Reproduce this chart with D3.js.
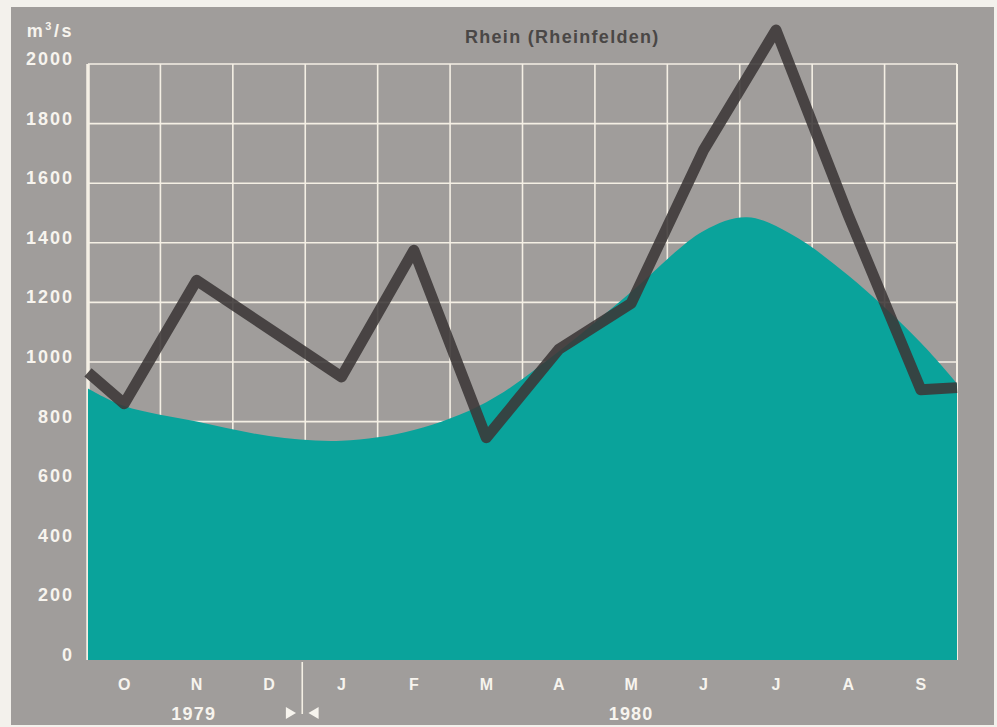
<!DOCTYPE html>
<html>
<head>
<meta charset="utf-8">
<script src="https://cdn.jsdelivr.net/npm/d3@7"></script>
<style>
  body { margin: 0; background: #f3f1ec; }
  svg { display: block; font-family: "Liberation Sans", Arial, sans-serif; }
</style>
</head>
<body>
<svg id="chart"></svg>
<script>
// month labels, Oct 1979 .. Sep 1980
const months = ["O", "N", "D", "J", "F", "M", "A", "M", "J", "J", "A", "S"];
const yTicks = [0, 200, 400, 600, 800, 1000, 1200, 1400, 1600, 1800, 2000];

// monthly mean discharge 1979/80 (x = month index, 0.5 = mid October)
const flowX = [0, 0.5, 1.5, 2.5, 3.5, 4.5, 5.5, 6.5, 7.5, 8.5, 9.5, 10.5, 11.5, 12];
const flowY = [965, 860, 1274, 1112, 950, 1375, 746, 1042, 1197, 1711, 2114, 1492, 907, 914];

// long-term mean discharge (smooth teal area)
const meanX = [0, 0.5, 1.5, 2.5, 3.5, 4.5, 5.5, 6.5, 7.5, 8.5, 9.1, 9.7, 10.5, 11.5, 12];
const meanY = [911, 852, 800, 752, 736, 772, 865, 1035, 1235, 1440, 1486, 1430, 1290, 1065, 928];

const years = [{ label: "1979", x: 1.46 }, { label: "1980", x: 7.5 }];

const W = 997, H = 727;
const margin = { top: 64, right: 40, bottom: 67, left: 88 };
const width = W - margin.left - margin.right;
const height = H - margin.top - margin.bottom;

const root = d3.select("#chart").attr("width", W).attr("height", H);

// grey card
root.append("rect")
    .attr("x", 11).attr("y", 7)
    .attr("width", 983).attr("height", 718)
    .attr("fill", "#a09d9b");

const svg = root.append("g")
    .attr("transform", `translate(${margin.left}, ${margin.top})`);

const x = d3.scaleLinear().domain([0, 12]).range([0, width]);
const y = d3.scaleLinear().domain([0, 2000]).range([height, 0]);

const gridColor = "#f4efe4";
const labelColor = "#f7f4ee";

// grid
svg.append("g")
    .selectAll("line.h")
    .data(yTicks.filter(d => d > 0))
    .enter()
    .append("line")
    .attr("x1", 0).attr("x2", width)
    .attr("y1", d => y(d)).attr("y2", d => y(d))
    .attr("stroke", gridColor)
    .attr("stroke-width", 1.6);

svg.append("g")
    .selectAll("line.v")
    .data(d3.range(1, 13))
    .enter()
    .append("line")
    .attr("x1", d => x(d)).attr("x2", d => x(d))
    .attr("y1", y(2000)).attr("y2", height)
    .attr("stroke", gridColor)
    .attr("stroke-width", d => d === 12 ? 2 : 1.6);

svg.append("line")
    .attr("x1", 0).attr("x2", 0)
    .attr("y1", y(2000)).attr("y2", height)
    .attr("stroke", gridColor)
    .attr("stroke-width", 3.5);

// long-term mean area
const meanData = meanX.map((d, i) => ({ x: d, y: meanY[i] }));
const area = d3.area()
    .x(d => x(d.x))
    .y0(y(0))
    .y1(d => y(d.y))
    .curve(d3.curveCatmullRom.alpha(0.5));

svg.append("path")
    .datum(meanData)
    .attr("d", area)
    .attr("fill", "#0aa39b");

// 1979/80 line
const flowData = flowX.map((d, i) => ({ x: d, y: flowY[i] }));
const line = d3.line()
    .x(d => x(d.x))
    .y(d => y(d.y));

svg.append("path")
    .datum(flowData)
    .attr("d", line)
    .attr("fill", "none")
    .attr("stroke", "#3b3737")
    .attr("stroke-opacity", 0.88)
    .attr("stroke-width", 11)
    .attr("stroke-linejoin", "round");

// y labels
svg.append("g")
    .selectAll("text")
    .data(yTicks)
    .enter()
    .append("text")
    .attr("x", -14)
    .attr("y", d => y(d) + 1)
    .attr("text-anchor", "end")
    .attr("fill", labelColor)
    .attr("font-size", 18)
    .attr("font-weight", "bold")
    .attr("letter-spacing", 2)
    .text(d => d);

const unit = svg.append("text")
    .attr("x", -14)
    .attr("y", -27)
    .attr("text-anchor", "end")
    .attr("fill", labelColor)
    .attr("font-size", 18)
    .attr("font-weight", "bold")
    .attr("letter-spacing", 2.5);
unit.append("tspan").text("m");
unit.append("tspan").attr("font-size", 11).attr("dy", -7).text("3");
unit.append("tspan").attr("dy", 7).text("/s");

// title
svg.append("text")
    .attr("x", x(6.55))
    .attr("y", -21)
    .attr("text-anchor", "middle")
    .attr("fill", "#4a4746")
    .attr("font-size", 18)
    .attr("font-weight", "bold")
    .attr("letter-spacing", 1.3)
    .text("Rhein (Rheinfelden)");

// month labels
svg.append("g")
    .selectAll("text")
    .data(months)
    .enter()
    .append("text")
    .attr("x", (d, i) => x(i + 0.5))
    .attr("y", height + 30)
    .attr("text-anchor", "middle")
    .attr("fill", labelColor)
    .attr("font-size", 16)
    .attr("font-weight", "bold")
    .text(d => d);

// year labels
svg.append("g")
    .selectAll("text")
    .data(years)
    .enter()
    .append("text")
    .attr("x", d => x(d.x))
    .attr("y", height + 60)
    .attr("text-anchor", "middle")
    .attr("fill", labelColor)
    .attr("font-size", 18)
    .attr("font-weight", "bold")
    .attr("letter-spacing", 1.2)
    .text(d => d.label);

// year divider with arrows
const xDiv = x(3) - 3;
svg.append("line")
    .attr("x1", xDiv).attr("x2", xDiv)
    .attr("y1", height + 2).attr("y2", height + 54)
    .attr("stroke", gridColor)
    .attr("stroke-width", 1.6);

const tri = d3.symbol().type(d3.symbolTriangle).size(60);
svg.append("path")
    .attr("d", tri)
    .attr("transform", `translate(${xDiv - 13}, ${height + 53}) rotate(90)`)
    .attr("fill", labelColor);
svg.append("path")
    .attr("d", tri)
    .attr("transform", `translate(${xDiv + 13}, ${height + 53}) rotate(-90)`)
    .attr("fill", labelColor);
</script>
</body>
</html>
